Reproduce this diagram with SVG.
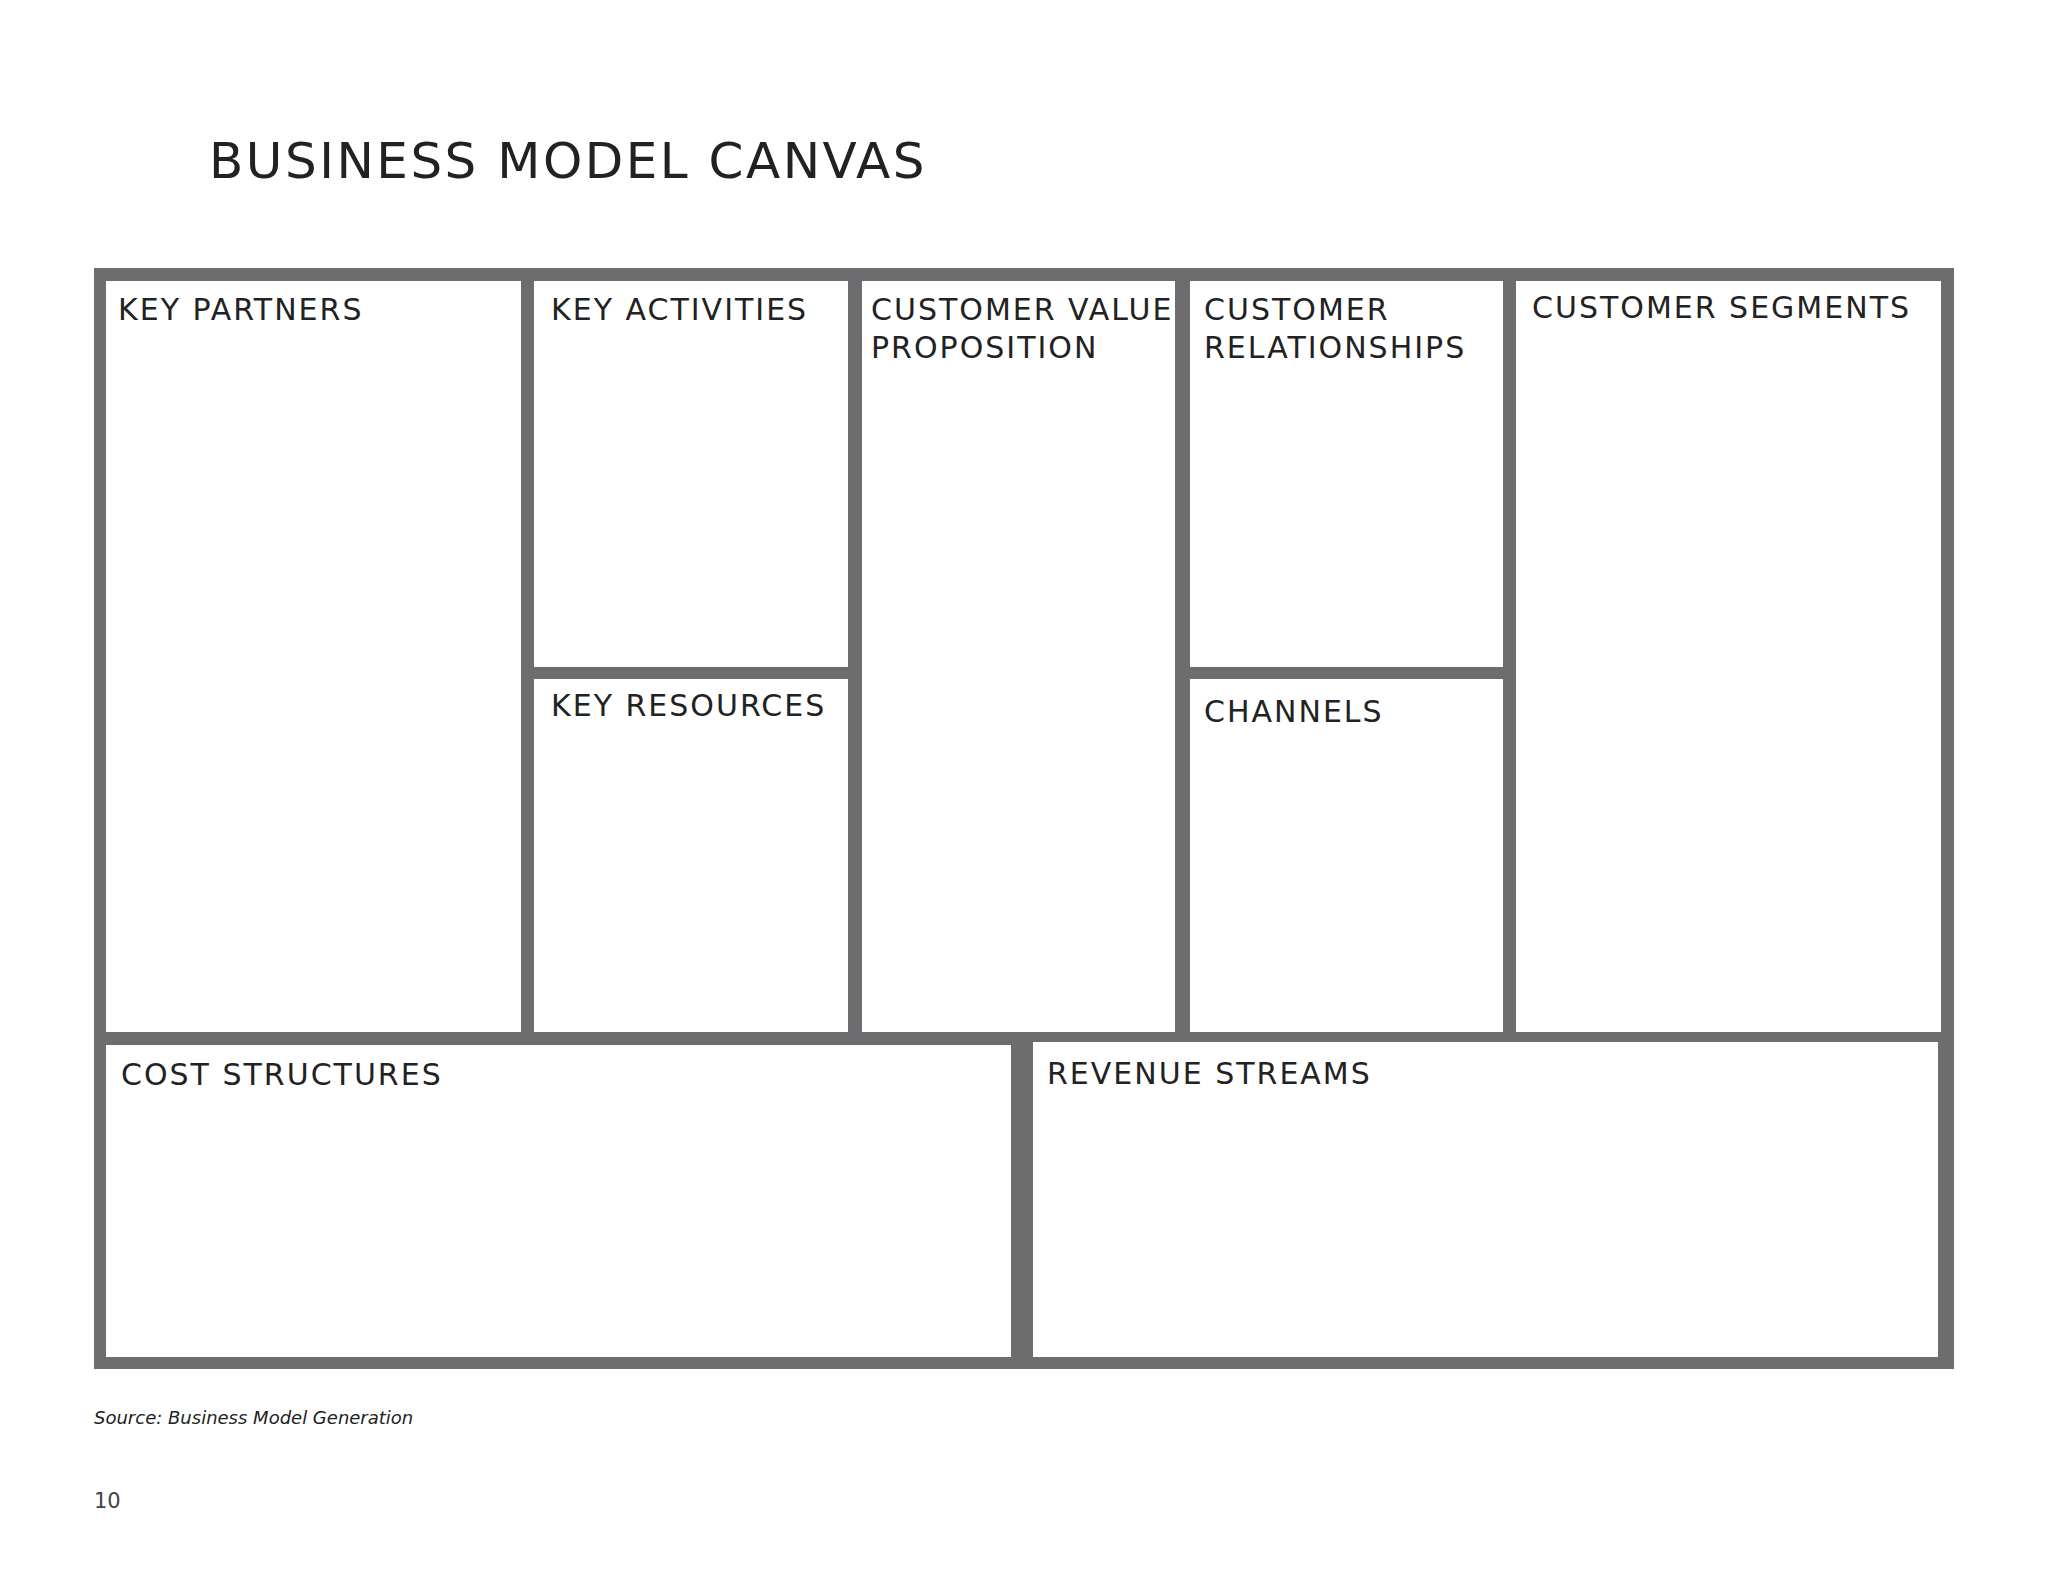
<svg xmlns="http://www.w3.org/2000/svg" width="2048" height="1582" viewBox="0 0 2048 1582">
<style>
.cell{fill:#fff}
.lbl{font-family:"DejaVu Sans","Liberation Sans",sans-serif;font-size:30px;letter-spacing:2px;fill:#222}
</style>
<rect width="2048" height="1582" fill="#fff"/>
<text x="209" y="178" font-family="DejaVu Sans, Liberation Sans, sans-serif" font-size="50" letter-spacing="2.5" fill="#222">BUSINESS MODEL CANVAS</text>
<rect id="frame" x="94" y="268" width="1860" height="1101" fill="#6d6d6f"/>
<g id="key-partners"><rect class="cell" x="106" y="281" width="415" height="751"/><text class="lbl" x="118" y="320">KEY PARTNERS</text></g>
<g id="key-activities"><rect class="cell" x="534" y="281" width="314" height="386"/><text class="lbl" x="551" y="320">KEY ACTIVITIES</text></g>
<g id="key-resources"><rect class="cell" x="534" y="679" width="314" height="353"/><text class="lbl" x="551" y="716">KEY RESOURCES</text></g>
<g id="value-proposition"><rect class="cell" x="862" y="281" width="313" height="751"/><text class="lbl" x="871" y="320">CUSTOMER VALUE</text><text class="lbl" x="871" y="358">PROPOSITION</text></g>
<g id="customer-relationships"><rect class="cell" x="1190" y="281" width="313" height="386"/><text class="lbl" x="1204" y="320">CUSTOMER</text><text class="lbl" x="1204" y="358">RELATIONSHIPS</text></g>
<g id="channels"><rect class="cell" x="1190" y="679" width="313" height="353"/><text class="lbl" x="1204" y="722">CHANNELS</text></g>
<g id="customer-segments"><rect class="cell" x="1516" y="281" width="425" height="751"/><text class="lbl" x="1532" y="318">CUSTOMER SEGMENTS</text></g>
<g id="cost-structures"><rect class="cell" x="106" y="1045" width="905" height="312"/><text class="lbl" x="121" y="1085">COST STRUCTURES</text></g>
<g id="revenue-streams"><rect class="cell" x="1033" y="1042" width="905" height="315"/><text class="lbl" x="1047" y="1084">REVENUE STREAMS</text></g>
<g id="connectors"/>
<text x="94" y="1424" font-family="DejaVu Sans, Liberation Sans, sans-serif" font-style="italic" font-size="18" fill="#222">Source: Business Model Generation</text>
<text x="94" y="1508" font-family="DejaVu Sans, Liberation Sans, sans-serif" font-size="21" fill="#444">10</text>
</svg>
